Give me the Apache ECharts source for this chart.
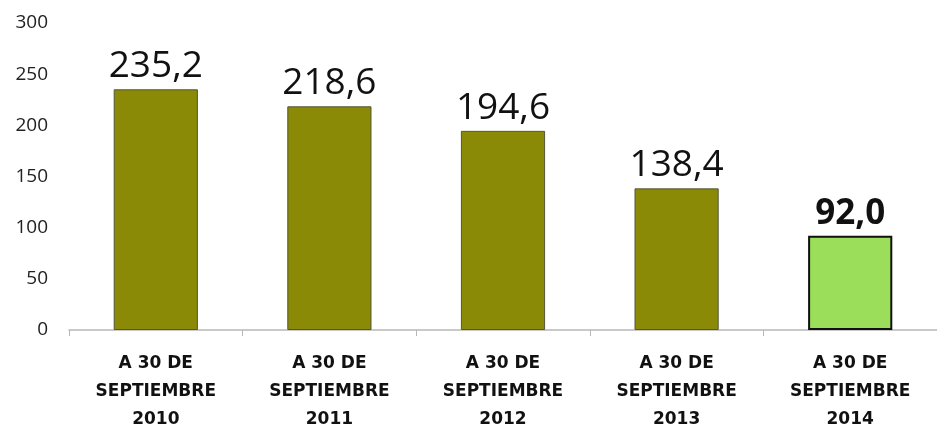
<!DOCTYPE html>
<html>
<head>
<meta charset="utf-8">
<script src="https://cdn.jsdelivr.net/npm/echarts@6/dist/echarts.min.js"></script>
<style>
  html, body { margin: 0; padding: 0; background: #fff; }
  #chart { width: 937px; height: 434px; }
</style>
</head>
<body>
<div id="chart"></div>
<script>
const categories = [
  'A 30 DE\nSEPTIEMBRE\n2010',
  'A 30 DE\nSEPTIEMBRE\n2011',
  'A 30 DE\nSEPTIEMBRE\n2012',
  'A 30 DE\nSEPTIEMBRE\n2013',
  'A 30 DE\nSEPTIEMBRE\n2014'
];
const values = [235.2, 218.6, 194.6, 138.4, 92.0];
const yTicks = [0, 50, 100, 150, 200, 250, 300];

const labelFont = '"Open Sans", sans-serif';
const boldFont = '"DejaVu Sans", sans-serif';
const olive = '#8a8a06';
const lime = '#9bde5a';

const lastIdx = values.length - 1;
const barData = values.map((v, i) => {
  const last = i === lastIdx;
  return {
    value: v,
    itemStyle: {
      color: last ? lime : olive,
      borderColor: last ? '#111' : '#55553a',
      borderWidth: last ? 2 : 1
    },
    label: {
      fontWeight: last ? 'bold' : 'normal',
      fontSize: last ? 35 : 37
    }
  };
});

const chart = echarts.init(document.getElementById('chart'), null, { renderer: 'canvas' });
chart.setOption({
  animation: false,
  grid: { left: 69, right: -11, top: 23, bottom: 97, containLabel: false },
  xAxis: {
    type: 'category',
    data: categories,
    axisLine: { lineStyle: { color: '#b8b8b8', width: 1.5 } },
    axisTick: { show: true, length: 6, lineStyle: { color: '#b8b8b8' } },
    axisLabel: {
      color: '#111',
      fontFamily: boldFont,
      fontWeight: 'bold',
      fontSize: 17,
      lineHeight: 28,
      margin: 20
    }
  },
  yAxis: {
    type: 'value',
    min: yTicks[0],
    max: yTicks[yTicks.length - 1],
    interval: 50,
    axisLine: { show: false },
    axisTick: { show: false },
    splitLine: { show: false },
    axisLabel: {
      color: '#222',
      fontFamily: labelFont,
      fontSize: 19,
      margin: 21
    }
  },
  series: [{
    type: 'bar',
    data: barData,
    barWidth: '48.5%',
    label: {
      show: true,
      position: 'top',
      distance: 4,
      color: '#111',
      fontFamily: labelFont,
      formatter: p => p.value.toFixed(1).replace('.', ',')
    }
  }]
});
</script>
</body>
</html>
